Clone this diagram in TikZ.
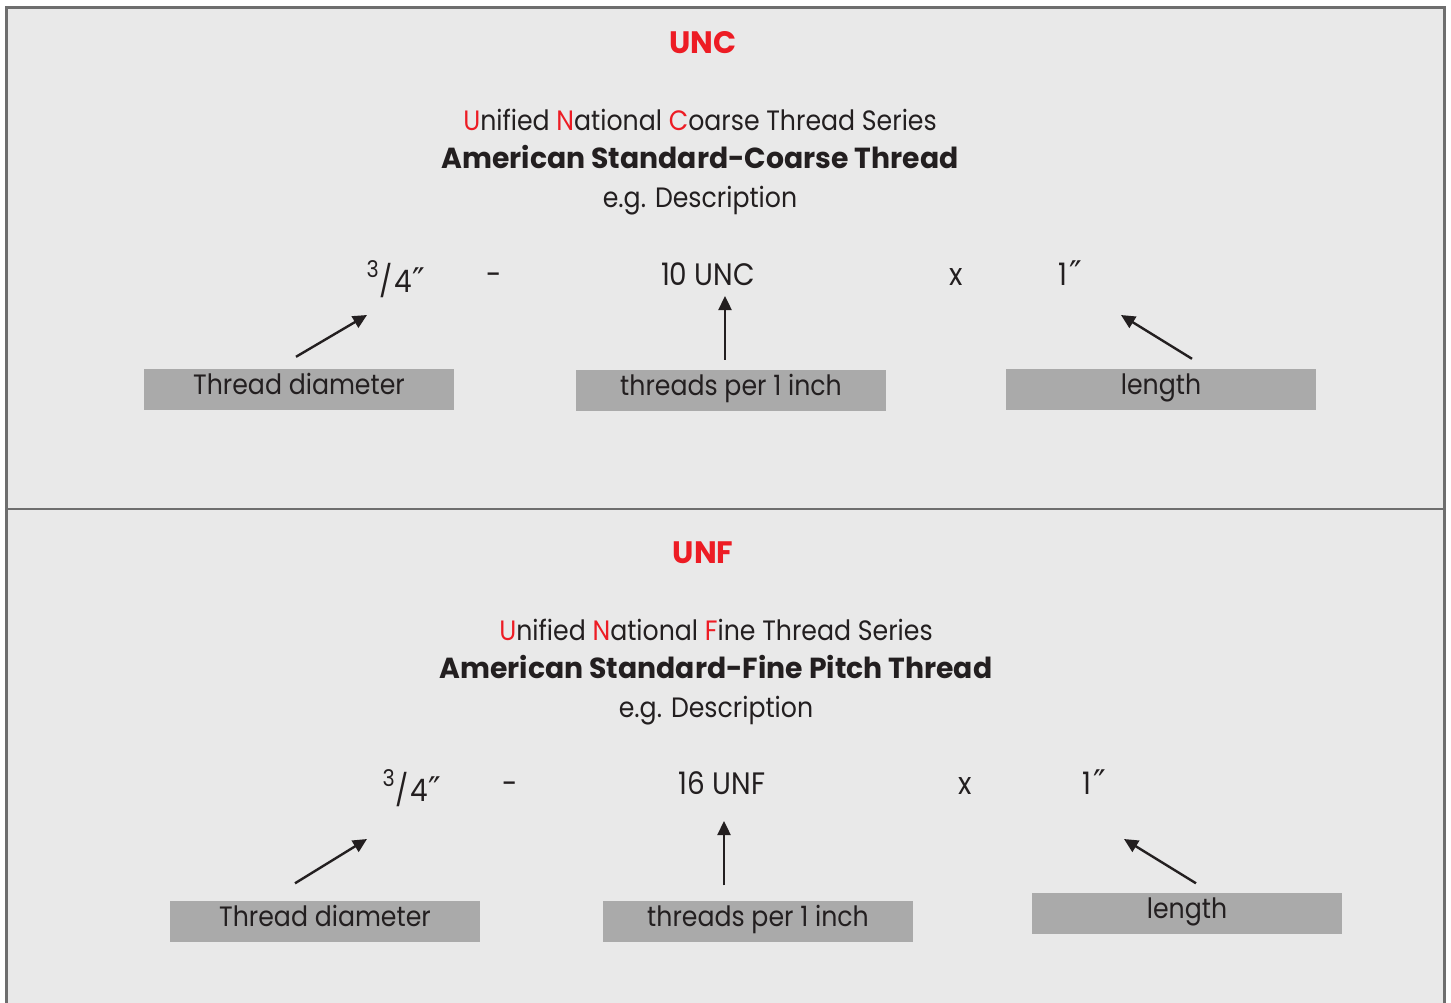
\documentclass[tikz,border=0pt]{standalone}
\usepackage{fontspec}
\setmainfont{Poppins}[FakeStretch=0.9]
\newfontfamily\heavyfont{Poppins}[FakeStretch=0.975]
\newfontfamily\primefont{DejaVu Sans}
\usepackage{xcolor}
\usetikzlibrary{arrows.meta, positioning, calc}

\definecolor{panelbg}{HTML}{E9E9E9}
\definecolor{framegray}{HTML}{6E6E6E}
\definecolor{tagbg}{HTML}{AAAAAA}
\definecolor{threadred}{HTML}{ED1C24}
\definecolor{inkdark}{HTML}{231F20}

\newcommand{\rl}[1]{\textcolor{threadred}{#1}}
\newcommand{\inch}{{\primefont\fontsize{34}{34}\selectfont\char"2033}}
\newcommand{\threequarter}{\raisebox{15pt}{\fontsize{23}{23}\selectfont 3}\kern1pt/\kern1pt4\kern1pt\inch}

\begin{document}
\begin{tikzpicture}[
    x=1pt, y=-1pt,
    title/.style={anchor=base, font=\heavyfont\fontsize{31}{31}\selectfont\bfseries, text=threadred, inner sep=0pt},
    line/.style={anchor=base, font=\fontsize{28}{30}\selectfont, text=inkdark, inner sep=0pt},
    heavy/.style={anchor=base, font=\heavyfont\fontsize{29}{30}\selectfont\bfseries, text=inkdark, inner sep=0pt},
    value/.style={anchor=base, font=\fontsize{31}{32}\selectfont, text=inkdark, inner sep=0pt},
    tag/.style={rectangle, fill=tagbg, minimum width=310pt, minimum height=41pt, inner sep=0pt,
                text height=20pt, text depth=10pt, font=\fontsize{28}{30}\selectfont, text=inkdark},
    arrow/.style={-{Triangle[length=14pt, width=13pt]}, line width=2.4pt, draw=inkdark},
]
\useasboundingbox (0,0) rectangle (1451,1003);
\clip (0,0) rectangle (1451,1003);
\fill[white] (0,0) rectangle (1451,1003);

% Frame and divider
\filldraw[fill=panelbg, draw=framegray, line width=2.6pt] (6.5,7.5) rectangle (1444.5,1020);
\draw[framegray, line width=2.6pt] (6.5,509) -- (1444.5,509);

% UNC panel
\node[title] (unc) at (703,54) {UNC};
\node[line] (uncname) at (700,131) {\rl{U}nified \rl{N}ational \rl{C}oarse Thread Series};
\node[heavy] (uncstd) at (700,169) {American Standard-Coarse Thread};
\node[line] (unceg) at (700,208) {e.g. Description};

\node[value] (uncdia) at (396,292) {\threequarter};
\node[value] (uncdash) at (494,285) {-};
\node[value] (uncpitch) at (708,285) {10 UNC};
\node[value] (uncx) at (956,285) {x};
\node[value] (unclen) at (1070,285) {1\kern2pt\inch};

\node[tag] (uncdiatag) at (299,389.5) {Thread diameter};
\node[tag] (uncpitchtag) at (731,390.5) {threads per 1 inch};
\node[tag] (unclentag) at (1161,389.5) {length};

\draw[arrow] ([shift={(-3,-12)}]uncdiatag.north) -- ([shift={(-29,23)}]uncdia.base);
\draw[arrow] ([shift={(-6,-10)}]uncpitchtag.north) -- ([shift={(17,11)}]uncpitch.base);
\draw[arrow] ([shift={(31,-10)}]unclentag.north) -- ([shift={(51,30)}]unclen.base);

% UNF panel
\node[title] (unf) at (703,563) {UNF};
\node[line] (unfname) at (716,640) {\rl{U}nified \rl{N}ational \rl{F}ine Thread Series};
\node[heavy] (unfstd) at (716,678) {American Standard-Fine Pitch Thread};
\node[line] (unfeg) at (716,717) {e.g. Description};

\node[value] (unfdia) at (412,801) {\threequarter};
\node[value] (unfdash) at (510,794) {-};
\node[value] (unfpitch) at (722,794) {16 UNF};
\node[value] (unfx) at (965,794) {x};
\node[value] (unflen) at (1094,794) {1\kern2pt\inch};

\node[tag] (unfdiatag) at (325,921) {Thread diameter};
\node[tag] (unfpitchtag) at (758,921) {threads per 1 inch};
\node[tag] (unflentag) at (1187,913) {length};

\draw[arrow] ([shift={(-30,-17)}]unfdiatag.north) -- ([shift={(-45,38)}]unfdia.base);
\draw[arrow] ([shift={(-34,-15)}]unfpitchtag.north) -- ([shift={(2,27)}]unfpitch.base);
\draw[arrow] ([shift={(9,-9)}]unflentag.north) -- ([shift={(30,45)}]unflen.base);
\end{tikzpicture}
\end{document}
